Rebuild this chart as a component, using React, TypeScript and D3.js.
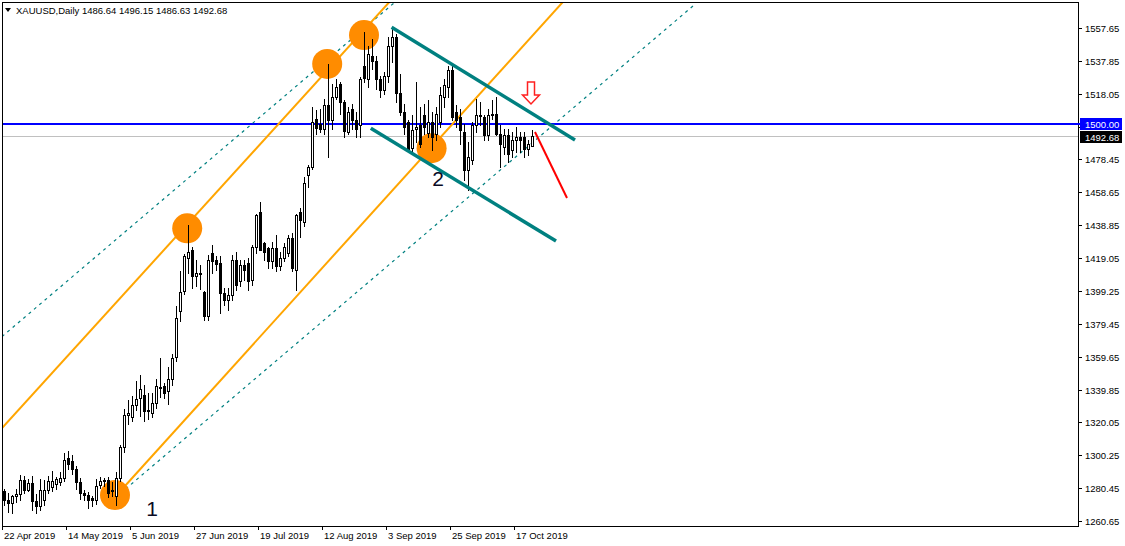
import React from "react";
import * as d3 from "d3";

// ---- DATA ----
const opens = [
  1278.5, 1273.5, 1271.7, 1275.6, 1276.8, 1285.6, 1279.5, 1283.6, 1272.5, 1269.6,
  1273.5, 1279.3, 1281.0, 1283.0, 1284.0, 1286.8, 1298.8, 1296.5, 1292.0, 1284.0,
  1277.5, 1276.6, 1274.5, 1273.2, 1282.5, 1284.6, 1285.5, 1279.5, 1276.0, 1286.6,
  1305.4, 1324.5, 1323.5, 1330.5, 1335.0, 1336.5, 1327.8, 1326.0, 1332.0, 1340.5,
  1342.0, 1339.0, 1346.0, 1359.6, 1387.4, 1399.0, 1419.0, 1424.0, 1408.0, 1410.0,
  1398.5, 1384.0, 1422.0, 1418.0, 1416.0, 1398.0, 1394.0, 1397.0, 1418.0, 1405.0,
  1415.0, 1416.0, 1406.0, 1426.0, 1447.0, 1428.0, 1425.0, 1417.0, 1425.0, 1414.0,
  1419.0, 1422.0, 1431.0, 1412.0, 1447.0, 1440.5, 1469.0, 1474.0, 1503.0, 1500.0,
  1497.0, 1511.0, 1502.0, 1516.0, 1524.0, 1513.0, 1495.0, 1509.0, 1502.0, 1499.0,
  1535.0, 1527.0, 1541.0, 1538.0, 1527.0, 1520.0, 1529.0, 1547.0, 1552.0, 1518.5,
  1507.0, 1501.0, 1485.5, 1497.0, 1499.0, 1505.0, 1494.5, 1501.0, 1494.0, 1501.0,
  1516.3, 1522.3, 1532.4, 1507.0, 1504.0, 1495.0, 1472.0, 1478.0, 1499.0, 1505.0,
  1504.0, 1493.0, 1505.0, 1506.0, 1493.5, 1486.0, 1493.0, 1484.0, 1490.0, 1492.0,
  1492.0, 1485.0, 1486.64,
];
const highs = [
  1280.0, 1277.5, 1276.5, 1280.0, 1288.5, 1287.5, 1286.0, 1287.5, 1277.0, 1286.0,
  1285.5, 1287.5, 1290.5, 1287.0, 1290.0, 1301.5, 1303.0, 1300.5, 1293.5, 1286.5,
  1279.5, 1278.0, 1275.5, 1286.0, 1287.0, 1286.5, 1287.0, 1284.0, 1290.0, 1306.5,
  1328.0, 1333.5, 1336.0, 1345.0, 1348.5, 1342.5, 1337.5, 1338.0, 1346.0, 1358.8,
  1344.0, 1353.5, 1361.0, 1390.0, 1411.0, 1421.5, 1439.0, 1425.5, 1418.0, 1415.0,
  1399.5, 1421.0, 1427.0, 1420.0, 1420.0, 1401.0, 1401.0, 1421.0, 1423.0, 1418.0,
  1418.0, 1419.0, 1427.0, 1445.5, 1453.0, 1429.0, 1426.0, 1429.0, 1433.0, 1423.0,
  1428.0, 1433.0, 1434.0, 1445.5, 1449.0, 1468.0, 1475.0, 1510.0, 1508.0, 1509.0,
  1515.0, 1536.0, 1524.0, 1527.0, 1525.0, 1514.0, 1510.0, 1512.0, 1507.0, 1528.0,
  1555.0, 1547.0, 1551.0, 1541.0, 1529.0, 1531.0, 1552.0, 1557.5, 1554.0, 1530.0,
  1512.0, 1502.0, 1505.0, 1525.0, 1510.0, 1512.0, 1514.0, 1507.0, 1510.0, 1522.0,
  1527.0, 1535.0, 1535.0, 1511.0, 1509.0, 1500.0, 1489.0, 1501.0, 1515.0, 1513.0,
  1505.0, 1509.0, 1514.0, 1516.0, 1499.0, 1497.0, 1497.0, 1495.0, 1498.0, 1495.0,
  1495.0, 1490.0, 1496.15,
];
const lows = [
  1270.5, 1266.3, 1265.5, 1272.0, 1273.5, 1277.5, 1278.5, 1267.5, 1265.2, 1267.0,
  1270.5, 1277.5, 1278.5, 1280.0, 1282.5, 1284.5, 1292.0, 1289.0, 1280.0, 1274.0,
  1273.0, 1268.5, 1269.5, 1271.0, 1280.5, 1281.5, 1275.0, 1276.0, 1270.5, 1285.0,
  1302.0, 1319.0, 1321.0, 1327.5, 1324.0, 1321.0, 1322.0, 1323.5, 1329.0, 1335.5,
  1335.0, 1331.0, 1342.5, 1357.0, 1381.0, 1397.5, 1410.0, 1401.0, 1402.0, 1400.5,
  1381.5, 1381.5, 1410.0, 1412.0, 1386.0, 1391.0, 1388.0, 1394.0, 1400.0, 1402.0,
  1406.0, 1400.0, 1403.0, 1422.0, 1424.0, 1418.0, 1413.0, 1413.0, 1411.0, 1412.0,
  1417.0, 1420.0, 1411.0, 1400.0, 1432.0, 1438.5, 1462.0, 1473.0, 1494.0, 1495.0,
  1494.0, 1480.0, 1497.0, 1515.0, 1506.0, 1492.0, 1494.0, 1497.0, 1492.0, 1492.0,
  1525.0, 1522.0, 1533.0, 1521.0, 1516.0, 1518.0, 1525.0, 1537.0, 1513.0, 1505.0,
  1494.0, 1484.0, 1483.0, 1489.0, 1486.0, 1494.0, 1492.0, 1484.0, 1490.0, 1498.0,
  1510.0, 1516.0, 1502.0, 1498.0, 1488.0, 1466.0, 1460.0, 1476.0, 1495.0, 1499.0,
  1490.0, 1490.0, 1503.0, 1493.0, 1474.0, 1482.0, 1477.0, 1480.0, 1483.0, 1483.0,
  1480.0, 1481.0, 1486.63,
];
const closes = [
  1273.5, 1271.7, 1275.6, 1276.8, 1285.6, 1279.5, 1283.6, 1272.5, 1269.6, 1279.3,
  1279.3, 1284.5, 1285.0, 1286.0, 1286.8, 1297.5, 1295.2, 1292.0, 1284.0, 1277.5,
  1276.6, 1273.0, 1273.2, 1281.8, 1284.6, 1285.5, 1277.5, 1278.5, 1286.6, 1305.4,
  1324.5, 1325.5, 1330.5, 1334.0, 1340.0, 1327.0, 1326.8, 1332.0, 1342.0, 1341.5,
  1338.0, 1346.0, 1358.8, 1383.0, 1398.8, 1420.0, 1423.0, 1408.0, 1410.0, 1409.3,
  1384.0, 1418.0, 1417.0, 1415.5, 1398.0, 1393.5, 1397.0, 1418.0, 1403.0, 1415.0,
  1412.0, 1405.0, 1426.0, 1445.0, 1424.0, 1423.0, 1417.0, 1425.0, 1414.0, 1419.0,
  1426.0, 1431.0, 1413.0, 1445.0, 1442.0, 1464.0, 1474.0, 1501.0, 1497.5, 1497.0,
  1511.0, 1502.0, 1516.0, 1522.0, 1513.0, 1495.5, 1507.0, 1502.0, 1497.0, 1527.0,
  1527.5, 1542.0, 1538.0, 1527.0, 1520.0, 1529.0, 1547.0, 1552.0, 1518.5, 1507.0,
  1498.0, 1485.0, 1496.0, 1498.0, 1488.0, 1498.0, 1501.0, 1492.0, 1506.0, 1517.0,
  1523.3, 1532.4, 1504.2, 1502.0, 1496.0, 1472.0, 1480.0, 1499.0, 1505.0, 1504.5,
  1493.0, 1505.0, 1506.0, 1493.5, 1488.0, 1493.0, 1482.0, 1490.0, 1492.0, 1490.0,
  1485.0, 1488.0, 1492.68,
];

const dateTickIndex = [0, 16, 32, 48, 64, 80, 96, 112, 128];
const dateTickLabels = [
  "22 Apr 2019", "14 May 2019", "5 Jun 2019", "27 Jun 2019", "19 Jul 2019",
  "12 Aug 2019", "3 Sep 2019", "25 Sep 2019", "17 Oct 2019",
];
// 1498.25 sits under the level labels, only its tick is visible
const priceTicks = [
  1557.65, 1537.85, 1518.05, 1498.25, 1478.45, 1458.65, 1438.85, 1419.05,
  1399.25, 1379.45, 1359.65, 1339.85, 1320.05, 1300.25, 1280.45, 1260.65,
];
const hiddenPriceLabels = [1498.25];

const levelPrice = 1500.0;
const lastPrice = 1492.68;
const headerText = "XAUUSD,Daily  1486.64 1496.15 1486.63 1492.68";

// annotation objects in (bar index, price)
const orangeLines = [
  [[-0.5, 1316.6], [98, 1577.7]],
  [[27.75, 1275.1], [140.5, 1575.4]],
];
const dottedLines = [
  [[-0.5, 1371.75], [99, 1575.8]],
  [[27.75, 1274.5], [172.25, 1570.9]],
];
const tealLines = [
  [[96.9, 1558.1], [142.75, 1490.2]],
  [[91.7, 1497.2], [138, 1429.3]],
];
const redLine = [[132.75, 1495.0], [140.75, 1455.2]];
const redArrow = { i: 131.75, top: 1525.1, bottom: 1511.9 };
const markers = [
  [27.75, 1276.3],
  [45.8, 1437.0],
  [80.8, 1536.0],
  [90.0, 1553.4],
  [106.9, 1485.2],
];
const pointLabels = [
  { text: "1", i: 37.0, p: 1263.8 },
  { text: "2", i: 108.5, p: 1462.5 },
];

// ---- LAYOUT ----
const W = 1125;
const H = 546;
const L = 2, R = 1078, T = 2, B = 526;
const FONT = "'Liberation Sans', Arial, sans-serif";

export default function App() {
  const x = d3.scaleLinear().domain([0, 132]).range([4, 532]);
  const y = d3.scaleLinear().domain([1260.65, 1557.65]).range([521, 28]);
  const line = d3
    .line<number[]>()
    .x((d) => x(d[0]))
    .y((d) => y(d[1]));

  const candles = opens.map((o, i) => {
    const c = closes[i];
    const h = highs[i];
    const l = lows[i];
    const cx = Math.round(x(i));
    const yTop = Math.round(y(Math.max(o, c)));
    const yBot = Math.round(y(Math.min(o, c)));
    const bull = c >= o;
    return (
      <g key={i}>
        <line
          x1={cx + 0.5}
          x2={cx + 0.5}
          y1={Math.round(y(h))}
          y2={Math.round(y(l)) + 1}
          stroke="#000"
          strokeWidth={1}
        />
        {yBot - yTop >= 1 ? (
          <rect
            x={cx - 0.5}
            y={yTop + 0.5}
            width={2}
            height={yBot - yTop}
            fill={bull ? "#fff" : "#000"}
            stroke="#000"
            strokeWidth={1}
          />
        ) : (
          <line x1={cx - 1} x2={cx + 2} y1={yTop + 0.5} y2={yTop + 0.5} stroke="#000" strokeWidth={1} />
        )}
      </g>
    );
  });

  const ay = y(redArrow.top);
  const by = y(redArrow.bottom);
  const ax = x(redArrow.i);
  const headH = 9;
  const arrowPath = `M${ax - 3.5},${ay} L${ax + 3.5},${ay} L${ax + 3.5},${by - headH} L${ax + 8.5},${by - headH} L${ax},${by} L${ax - 8.5},${by - headH} L${ax - 3.5},${by - headH} Z`;

  return (
    <div>
      <style>{`body{margin:0;background:#fff}`}</style>
      <svg width={W} height={H} style={{ display: "block", background: "#fff" }}>
        <defs>
          <clipPath id="plot">
            <rect x={L + 1} y={T + 1} width={R - L - 1} height={B - T - 1} />
          </clipPath>
        </defs>

        <g clipPath="url(#plot)">
          {/* horizontal levels */}
          <line x1={L} x2={R} y1={Math.round(y(lastPrice)) + 0.5} y2={Math.round(y(lastPrice)) + 0.5} stroke="#C0C0C0" strokeWidth={1} />
          <line x1={L} x2={R} y1={Math.round(y(levelPrice))} y2={Math.round(y(levelPrice))} stroke="#0000FF" strokeWidth={2} />

          {/* dotted channel */}
          {dottedLines.map((d, k) => (
            <path key={"d" + k} d={line(d) || ""} stroke="#008080" strokeWidth={1.2} strokeDasharray="3,4" fill="none" />
          ))}
          {/* orange channel */}
          {orangeLines.map((d, k) => (
            <path key={"o" + k} d={line(d) || ""} stroke="#FFA500" strokeWidth={2} fill="none" />
          ))}

          {/* markers */}
          {markers.map((m, k) => (
            <circle key={"m" + k} cx={x(m[0])} cy={y(m[1])} r={15} fill="#FF8C00" />
          ))}

          {/* candles */}
          <g shapeRendering="crispEdges">{candles}</g>

          {/* teal falling channel */}
          {tealLines.map((d, k) => (
            <path key={"t" + k} d={line(d) || ""} stroke="#008080" strokeWidth={3.5} fill="none" />
          ))}
          {/* red projection */}
          <path d={line(redLine) || ""} stroke="#FF0000" strokeWidth={2} fill="none" />
          <path d={arrowPath} fill="#fff" stroke="#FF2020" strokeWidth={1.5} />

          {pointLabels.map((pl, k) => (
            <text
              key={"pl" + k}
              x={x(pl.i)}
              y={y(pl.p)}
              textAnchor="middle"
              fontFamily={FONT}
              fontSize={21}
              fill="#0a0a24"
            >
              {pl.text}
            </text>
          ))}
        </g>

        {/* header */}
        <path d="M5,8 L11,8 L8,12 Z" fill="#000" />
        <text x={16} y={14} fontFamily={FONT} fontSize={9.5} fill="#000">
          {headerText}
        </text>

        {/* frame */}
        <rect x={L + 0.5} y={T + 0.5} width={R - L} height={B - T} fill="none" stroke="#000" strokeWidth={1} shapeRendering="crispEdges" />

        {/* price axis */}
        {priceTicks.map((p, k) => {
          const yy = Math.round(y(p)) + 0.5;
          return (
            <g key={"pt" + k}>
              <line x1={R} x2={R + 4} y1={yy} y2={yy} stroke="#000" shapeRendering="crispEdges" />
              {hiddenPriceLabels.includes(p) ? null : (
                <text x={R + 7} y={yy + 3.5} fontFamily={FONT} fontSize={9.5} fill="#000">
                  {p.toFixed(2)}
                </text>
              )}
            </g>
          );
        })}

        {/* level labels */}
        <line x1={R} x2={R + 2} y1={Math.round(y(levelPrice))} y2={Math.round(y(levelPrice))} stroke="#0000FF" strokeWidth={2} />
        <rect x={R + 2} y={Math.round(y(levelPrice)) - 6} width={42} height={12} fill="#0000FF" />
        <text x={R + 7} y={Math.round(y(levelPrice)) + 4} fontFamily={FONT} fontSize={9.5} fill="#fff">
          {levelPrice.toFixed(2)}
        </text>
        <rect x={R + 2} y={Math.round(y(lastPrice)) - 5} width={42} height={12} fill="#000" />
        <text x={R + 7} y={Math.round(y(lastPrice)) + 4.5} fontFamily={FONT} fontSize={9.5} fill="#fff">
          {lastPrice.toFixed(2)}
        </text>

        {/* time axis */}
        {dateTickIndex.map((di, k) => {
          const xx = Math.round(x(di)) - 1.5;
          return (
            <g key={"dt" + k}>
              <line x1={xx} x2={xx} y1={B} y2={B + 4} stroke="#000" shapeRendering="crispEdges" />
              <text x={xx + 1.5} y={B + 13} fontFamily={FONT} fontSize={9.5} fill="#000">
                {dateTickLabels[k]}
              </text>
            </g>
          );
        })}
      </svg>
    </div>
  );
}
